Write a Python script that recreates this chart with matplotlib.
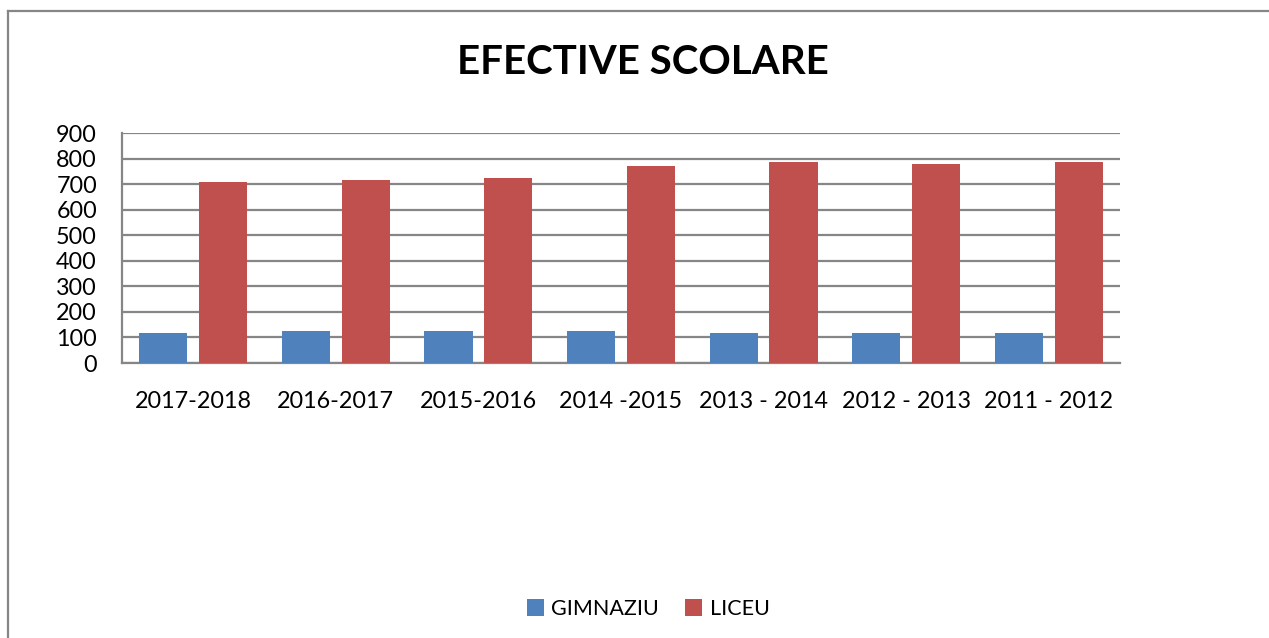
import matplotlib
matplotlib.use("Agg")
import matplotlib.pyplot as plt
from matplotlib.lines import Line2D
import numpy as np

categories = ["2017-2018", "2016-2017", "2015-2016", "2014 -2015",
              "2013 - 2014", "2012 - 2013", "2011 - 2012"]
gimnaziu = [119, 127, 127, 127, 119, 119, 119]
liceu = [710, 717, 724, 772, 787, 779, 787]
series_names = ["GIMNAZIU", "LICEU"]
yticks = [0, 100, 200, 300, 400, 500, 600, 700, 800, 900]

plt.rcParams['font.family'] = ['Lato', 'DejaVu Sans']

W, H = 1269, 638
fig = plt.figure(figsize=(W / 100, H / 100), dpi=100)
fig.patch.set_facecolor("white")

ax = fig.add_axes([122 / W, 1 - 363 / H, (1120 - 122) / W, (363 - 133) / H])

x = np.arange(len(categories))
bw = 0.337
off = 0.21
blue = "#4F81BD"
red = "#C0504D"
ax.bar(x - off, gimnaziu, width=bw, color=blue, label=series_names[0], zorder=3)
ax.bar(x + off, liceu, width=bw, color=red, label=series_names[1], zorder=3)

ax.set_xlim(-0.5, len(categories) - 0.5)
ax.set_ylim(0, 900)
ax.set_yticks(yticks)
ax.set_yticklabels([str(v) for v in yticks])
ax.set_xticks(x)
ax.set_xticklabels(categories)
ax.tick_params(axis='both', length=0, labelsize=16.8, colors="black")
ax.tick_params(axis='y', pad=18)
ax.tick_params(axis='x', pad=20)
ax.yaxis.grid(True, color="#868686", linewidth=1.6, zorder=0)
ax.set_axisbelow(True)
for s in ["top", "right"]:
    ax.spines[s].set_visible(False)
for s in ["left", "bottom"]:
    ax.spines[s].set_color("#868686")
    ax.spines[s].set_linewidth(1.6)

fig.text(643 / W, 1 - 62 / H, "EFECTIVE SCOLARE", ha="center", va="center",
         fontsize=29, fontweight="bold")

leg = fig.legend(loc="center", bbox_to_anchor=(648 / W, 1 - 609 / H), ncol=2,
                 frameon=False, fontsize=15.5, handlelength=0.8, handleheight=0.8,
                 handletextpad=0.35, columnspacing=1.2)

# outer chart border (top and left visible)
fig.add_artist(Line2D([8 / W, 8 / W], [0, 1 - 11 / H], transform=fig.transFigure,
                      color="#868686", linewidth=1.6))
fig.add_artist(Line2D([8 / W, 1], [1 - 11 / H, 1 - 11 / H], transform=fig.transFigure,
                      color="#868686", linewidth=1.6))

fig.savefig("out.png", dpi=100)
